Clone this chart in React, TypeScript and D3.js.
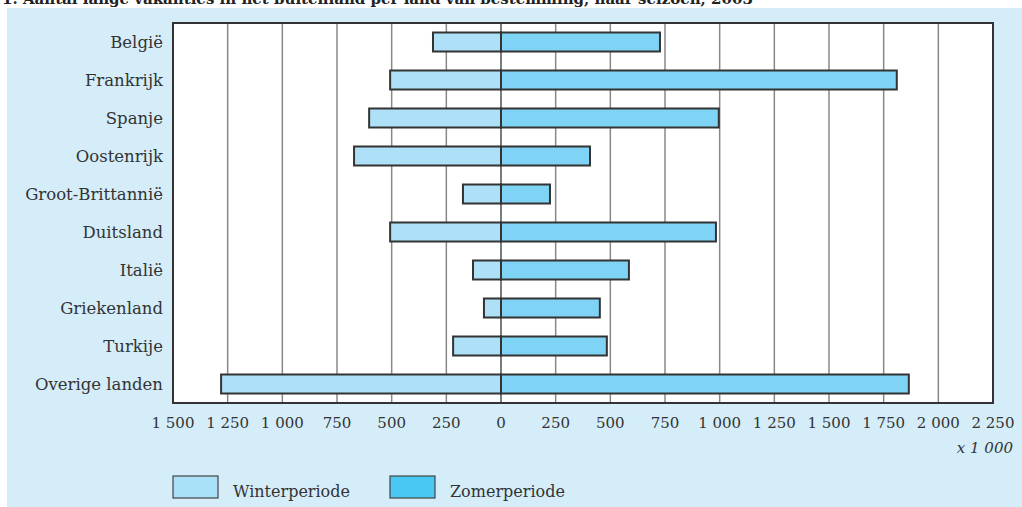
import React from "react";
import * as d3 from "d3";

const countries = ["België", "Frankrijk", "Spanje", "Oostenrijk", "Groot-Brittannië", "Duitsland", "Italië", "Griekenland", "Turkije", "Overige landen"];
const winter = [311, 507, 603, 672, 174, 507, 128, 78, 219, 1280];
const zomer = [727, 1810, 996, 407, 224, 983, 585, 452, 484, 1865];
const tickValues = [-1500, -1250, -1000, -750, -500, -250, 0, 250, 500, 750, 1000, 1250, 1500, 1750, 2000, 2250];
const title = "1. Aantal lange vakanties in het buitenland per land van bestemming, naar seizoen, 2003";

const W = 1022, H = 507;
const FONT = "'DejaVu Serif', serif";

export default function App() {
  const left = 173, right = 993, top = 23, bottom = 403;
  const x = d3.scaleLinear().domain([-1500, 2250]).range([left, right]);
  const y = d3.scaleBand<string>().domain(countries).range([top, bottom]).paddingInner(0.5).paddingOuter(0.25);
  const fmt = (v: number) => {
    const a = Math.abs(v);
    return a >= 1000 ? `${Math.floor(a / 1000)} ${String(a % 1000).padStart(3, "0")}` : String(a);
  };
  return (
    <svg width={W} height={H} style={{ position: "absolute", left: 0, top: 0 }} fontFamily={FONT}>
      <rect x={0} y={0} width={W} height={H} fill="#fff" />
      <text x={2} y={4} fontSize={15} fontWeight="bold" fill="#222">{title}</text>
      <rect x={7} y={8} width={W - 7} height={H - 8} fill="#d4edf9" />
      <rect x={left} y={top} width={right - left} height={bottom - top} fill="#fff" />
      {tickValues.map((t) => (
        <line key={"g" + t} x1={x(t)} x2={x(t)} y1={top} y2={bottom} stroke={t === 0 ? "#333" : "#888"} strokeWidth={t === 0 ? 1.3 : 1.5} />
      ))}
      {countries.map((c, i) => (
        <g key={c}>
          <rect x={x(-winter[i])} y={y(c)!} width={x(0) - x(-winter[i])} height={y.bandwidth()} fill="#aee1f8" stroke="#333" strokeWidth={2} />
          <rect x={x(0)} y={y(c)!} width={x(zomer[i]) - x(0)} height={y.bandwidth()} fill="#7fd3f5" stroke="#333" strokeWidth={2} />
          <text x={163} y={y(c)! + y.bandwidth() / 2} dy="0.35em" textAnchor="end" fontSize={16.5} fill="#333">{c}</text>
        </g>
      ))}
      <rect x={left} y={top} width={right - left} height={bottom - top} fill="none" stroke="#333" strokeWidth={2} />
      {tickValues.map((t) => (
        <text key={"t" + t} x={x(t)} y={428} textAnchor="middle" fontSize={15} fill="#333">{fmt(t)}</text>
      ))}
      <text x={1013} y={453} textAnchor="end" fontSize={15} fontStyle="italic" fill="#333">x 1 000</text>
      <rect x={173} y={476} width={45} height={22} fill="#a8e0f8" stroke="#444" strokeWidth={1.2} />
      <text x={233} y={497} fontSize={16} fill="#333">Winterperiode</text>
      <rect x={390} y={476} width={45} height={22} fill="#48c8f2" stroke="#444" strokeWidth={1.2} />
      <text x={450} y={497} fontSize={16} fill="#333">Zomerperiode</text>
    </svg>
  );
}
